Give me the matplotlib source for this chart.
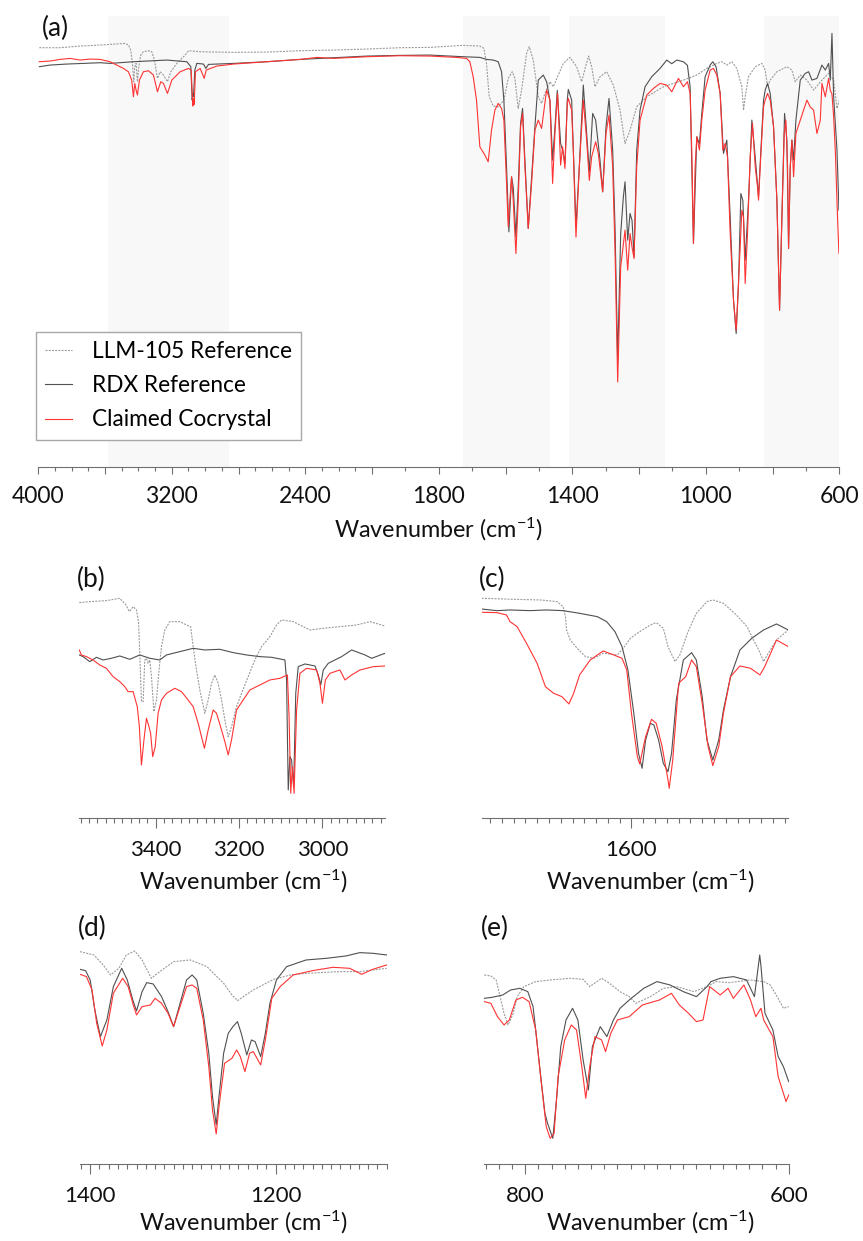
import numpy as np
import matplotlib
matplotlib.use('Agg')
import matplotlib.pyplot as plt
from matplotlib.ticker import FixedLocator, FixedFormatter, MultipleLocator, NullFormatter

plt.rcParams['font.family'] = ['Lato', 'DejaVu Sans']
plt.rcParams['mathtext.fontset'] = 'custom'
plt.rcParams['mathtext.rm'] = 'Lato'
plt.rcParams['mathtext.default'] = 'regular'

# ---- data: (wavenumber cm-1, transmittance arb. units) ----
# panel (a), full range 4000-600
a_llm = [(3994, 125.8), (3870, 125.8), (3750, 126.3), (3630, 126.6), (3480, 127.1), (3460, 126.6),
         (3446, 125.1), (3436, 121.1), (3428, 115.6), (3422, 120.1), (3414, 121.1), (3406, 115.6),
         (3398, 120.1), (3386, 123.6), (3370, 124.6), (3340, 124.9), (3320, 124.6), (3304, 122.1),
         (3286, 116.6), (3270, 118.6), (3250, 117.6), (3226, 115.6), (3206, 118.6), (3170, 121.1),
         (3120, 123.6), (3100, 124.9), (3030, 124.6), (2830, 124.4), (2630, 124.5), (2430, 124.9),
         (2230, 125.1), (2030, 125.4), (1917, 125.8), (1827, 125.9), (1727, 126.5), (1677, 126.3),
         (1665, 125.6), (1657, 121.1), (1649, 111.1), (1637, 108.3), (1622, 108.1), (1605, 110.1),
         (1592, 116.6), (1580, 118.6), (1572, 116.6), (1562, 107.6), (1552, 113.1), (1537, 124.1),
         (1529, 126.1), (1517, 122.1), (1502, 111.1), (1492, 109.1), (1482, 112.1), (1467, 115.6),
         (1457, 114.1), (1442, 117.6), (1427, 121.1), (1407, 122.9), (1387, 120.1), (1372, 115.6),
         (1359, 120.6), (1351, 123.3), (1342, 120.1), (1332, 114.1), (1317, 117.1), (1297, 118.6),
         (1277, 114.6), (1257, 107.1), (1242, 97.1), (1227, 101.1), (1207, 108.1), (1177, 111.1),
         (1127, 114.1), (1067, 116.1), (1027, 117.6), (997, 119.6), (967, 121.1), (952, 121.6),
         (937, 120.6), (922, 121.6), (907, 119.6), (892, 114.1), (887, 107.1), (882, 111.1),
         (872, 117.1), (852, 120.1), (832, 121.1), (822, 119.1), (815, 114.1), (807, 116.1),
         (787, 118.6), (757, 120.1), (742, 119.1), (732, 115.6), (717, 117.6), (697, 116.1),
         (677, 113.1), (652, 116.1), (632, 118.1), (617, 116.1), (607, 107.6), (600, 110.1)]
a_rdx = [(3994, 120.1), (3930, 120.6), (3830, 120.9), (3730, 121.1), (3630, 121.3), (3570, 121.1),
         (3430, 121.6), (3230, 122.1), (3110, 121.6), (3086, 120.1), (3078, 110.1), (3074, 112.0),
         (3070, 111.1), (3062, 119.1), (3050, 121.1), (3010, 120.9), (2996, 119.6), (2980, 120.8),
         (2830, 121.1), (2630, 121.6), (2430, 122.3), (2230, 122.8), (2030, 123.3), (1917, 123.5),
         (1827, 123.6), (1727, 123.1), (1677, 122.9), (1657, 122.3), (1637, 122.1), (1622, 121.6),
         (1612, 118.6), (1605, 110.1), (1597, 90.1), (1590, 70.6), (1582, 87.1), (1577, 84.0),
         (1569, 69.1), (1562, 84.1), (1555, 103.1), (1549, 107.6), (1542, 92.1), (1532, 71.6),
         (1522, 87.1), (1512, 102.1), (1502, 116.1), (1487, 117.6), (1477, 115.6), (1467, 110.0),
         (1459, 92.1), (1452, 102.0), (1445, 113.0), (1435, 97.1), (1429, 95.1), (1422, 91.1),
         (1415, 110.1), (1412, 113.3), (1402, 110.1), (1389, 72.1), (1379, 90.1), (1367, 114.6),
         (1357, 100.1), (1349, 88.6), (1339, 106.1), (1330, 104.1), (1317, 92.1), (1309, 82.6),
         (1299, 102.1), (1290, 110.6), (1279, 95.1), (1272, 72.1), (1264, 32.1), (1255, 70.1),
         (1247, 81.1), (1242, 85.6), (1234, 68.1), (1227, 76.1), (1221, 74.0), (1215, 63.1),
         (1207, 95.1), (1197, 107.1), (1182, 114.1), (1162, 117.1), (1137, 119.6), (1117, 122.1),
         (1102, 121.0), (1087, 122.1), (1067, 121.6), (1055, 120.5), (1047, 114.1), (1037, 67.1),
         (1027, 99.1), (1019, 97.0), (1012, 106.1), (1002, 117.1), (987, 120.6), (979, 121.6),
         (969, 120.0), (957, 112.1), (947, 94.1), (937, 98.1), (927, 75.1), (917, 50.1),
         (909, 40.1), (902, 55.0), (895, 82.1), (889, 80.0), (882, 62.1), (872, 80.1),
         (862, 104.1), (852, 93.1), (842, 81.1), (835, 95.0), (827, 110.1), (822, 113.1),
         (815, 115.1), (807, 112.1), (797, 102.1), (787, 80.1), (779, 47.1), (772, 75.1),
         (764, 106.1), (757, 98.0), (752, 65.6), (747, 90.0), (742, 98.1), (737, 92.1),
         (730, 104.1), (717, 116.1), (702, 118.1), (692, 118.6), (682, 116.1), (667, 116.6),
         (652, 120.6), (642, 119.1), (632, 121.1), (627, 116.1), (622, 130.1), (617, 111.1),
         (607, 95.1), (601, 77.1)]
a_cc = [(3994, 121.6), (3930, 121.8), (3870, 122.3), (3810, 122.6), (3750, 122.1), (3690, 122.4),
        (3630, 122.3), (3570, 121.6), (3530, 120.6), (3490, 119.6), (3460, 118.6), (3440, 116.1),
        (3430, 111.1), (3422, 115.1), (3414, 113.1), (3406, 111.6), (3394, 116.1), (3370, 118.6),
        (3340, 118.9), (3310, 117.6), (3286, 112.6), (3266, 115.6), (3250, 115.1), (3226, 112.1),
        (3200, 116.1), (3150, 118.6), (3100, 119.6), (3084, 119.1), (3074, 108.3), (3070, 110.5),
        (3066, 108.8), (3058, 118.6), (3030, 119.6), (3006, 116.6), (2994, 119.1), (2930, 120.3),
        (2830, 120.9), (2630, 121.6), (2430, 122.3), (2330, 122.9), (2230, 122.6), (2030, 123.1),
        (1917, 123.4), (1827, 123.3), (1747, 122.9), (1717, 122.6), (1707, 121.6), (1697, 117.1),
        (1687, 110.1), (1677, 96.1), (1662, 93.6), (1652, 91.6), (1642, 101.1), (1632, 107.1),
        (1622, 109.1), (1612, 107.6), (1605, 104.1), (1597, 85.1), (1592, 72.1), (1587, 80.1),
        (1582, 87.1), (1577, 80.1), (1569, 64.1), (1562, 80.1), (1555, 102.1), (1549, 106.1),
        (1542, 90.1), (1532, 71.6), (1522, 85.1), (1512, 101.1), (1502, 104.1), (1492, 101.6),
        (1482, 109.1), (1477, 113.1), (1467, 110.1), (1459, 85.1), (1452, 100.1), (1447, 108.1),
        (1444, 112.1), (1435, 90.6), (1429, 96.1), (1422, 89.6), (1415, 109.1), (1412, 110.6),
        (1402, 107.1), (1397, 95.1), (1389, 69.0), (1379, 90.1), (1367, 110.1), (1357, 98.1),
        (1349, 86.0), (1342, 93.1), (1330, 97.6), (1322, 94.1), (1309, 82.6), (1299, 100.1),
        (1290, 105.6), (1279, 90.1), (1272, 65.0), (1264, 25.6), (1255, 60.1), (1242, 71.1),
        (1234, 59.1), (1227, 70.1), (1221, 66.0), (1215, 62.6), (1207, 90.1), (1197, 104.1),
        (1177, 111.6), (1157, 113.6), (1137, 115.1), (1117, 114.6), (1102, 112.6), (1082, 116.6),
        (1067, 114.1), (1055, 115.6), (1047, 112.1), (1042, 95.1), (1037, 67.1), (1032, 90.1),
        (1027, 99.1), (1019, 95.1), (1012, 104.1), (1002, 113.1), (987, 119.1), (977, 119.6),
        (967, 117.6), (957, 112.1), (949, 95.1), (942, 97.1), (935, 93.1), (927, 70.1),
        (917, 50.1), (909, 41.1), (902, 55.1), (892, 77.1), (887, 75.0), (882, 55.1),
        (875, 70.1), (867, 93.1), (860, 103.1), (852, 90.1), (845, 84.1), (842, 80.1),
        (837, 90.0), (827, 108.1), (822, 110.1), (815, 112.1), (807, 110.1), (797, 102.1),
        (787, 80.1), (779, 47.1), (772, 75.1), (765, 100.1), (760, 104.1), (755, 90.1),
        (752, 65.6), (747, 90.1), (742, 98.1), (737, 87.1), (730, 100.1), (717, 104.1),
        (707, 107.1), (697, 110.1), (687, 108.0), (677, 107.1), (667, 100.1), (657, 104.0),
        (652, 115.1), (642, 111.1), (632, 116.6), (627, 113.0), (622, 112.0), (617, 105.1),
        (612, 95.1), (605, 74.1), (601, 64.1)]

# panel (b), 3583-2850
b_llm = [(3583, 64.7), (3558, 65.0), (3518, 65.3), (3486, 66.0), (3471, 64.0), (3463, 62.0),
         (3454, 63.5), (3446, 62.5), (3441, 59.0), (3438, 49.5), (3434, 35.0), (3430, 35.0),
         (3426, 47.5), (3422, 48.0), (3418, 46.5), (3414, 47.5), (3410, 42.5), (3404, 32.0),
         (3398, 35.5), (3391, 45.5), (3386, 51.5), (3378, 56.5), (3366, 59.0), (3342, 59.0),
         (3326, 58.0), (3316, 57.5), (3310, 51.5), (3302, 44.5), (3294, 38.5), (3282, 31.5),
         (3274, 35.5), (3266, 40.5), (3258, 43.0), (3250, 40.5), (3242, 35.5), (3234, 29.5),
         (3226, 24.5), (3218, 27.5), (3206, 33.5), (3194, 37.5), (3178, 42.5), (3162, 47.5),
         (3146, 51.5), (3126, 54.5), (3110, 58.0), (3098, 59.5), (3070, 59.0), (3046, 57.5),
         (3030, 56.5), (2998, 57.0), (2958, 57.5), (2918, 58.0), (2886, 59.0), (2850, 57.7)]
b_rdx = [(3583, 49.0), (3574, 48.5), (3558, 47.0), (3542, 48.3), (3526, 47.5), (3506, 48.0),
         (3486, 48.7), (3462, 47.7), (3438, 49.0), (3414, 48.0), (3390, 47.5), (3374, 49.0),
         (3342, 50.0), (3310, 51.0), (3282, 50.5), (3246, 50.7), (3214, 49.7), (3182, 49.0),
         (3150, 48.5), (3122, 48.3), (3090, 47.5), (3086, 41.5), (3082, 8.5), (3078, 18.5),
         (3074, 17.5), (3069, 9.5), (3064, 37.5), (3058, 45.5), (3042, 46.3), (3018, 45.7),
         (3010, 43.0), (3004, 40.0), (2998, 44.5), (2986, 46.5), (2954, 48.5), (2930, 50.5),
         (2898, 49.0), (2882, 48.0), (2850, 49.5)]
b_cc = [(3583, 50.5), (3578, 49.0), (3566, 48.5), (3550, 47.5), (3534, 46.0), (3518, 45.0),
        (3502, 42.5), (3486, 41.0), (3474, 39.5), (3466, 38.0), (3454, 38.0), (3444, 33.5),
        (3439, 27.5), (3434, 16.0), (3428, 23.5), (3422, 30.0), (3417, 28.0), (3412, 25.5),
        (3407, 18.5), (3401, 21.5), (3394, 31.5), (3386, 35.5), (3374, 37.5), (3354, 39.0),
        (3338, 38.0), (3322, 35.5), (3310, 33.5), (3298, 28.5), (3290, 24.5), (3283, 21.0),
        (3274, 26.5), (3262, 32.5), (3254, 31.5), (3242, 26.5), (3234, 23.0), (3226, 19.0),
        (3218, 23.5), (3206, 32.5), (3190, 35.5), (3174, 38.5), (3150, 40.0), (3126, 41.5),
        (3102, 42.0), (3084, 43.0), (3080, 30.5), (3076, 7.5), (3072, 15.5), (3068, 7.5),
        (3062, 32.5), (3054, 43.5), (3038, 45.0), (3014, 44.5), (3006, 40.5), (3000, 34.5),
        (2993, 41.5), (2982, 43.5), (2958, 44.5), (2946, 41.5), (2930, 43.0), (2910, 44.5),
        (2878, 45.5), (2850, 45.7)]

# panel (c), 1727-1467
c_llm = [(1727, 66.0), (1700, 65.7), (1677, 65.5), (1663, 65.0), (1658, 63.5), (1656, 60.5),
         (1655, 56.5), (1652, 53.5), (1646, 51.0), (1639, 48.5), (1632, 48.0), (1624, 49.5),
         (1612, 49.0), (1607, 51.0), (1601, 54.0), (1593, 56.0), (1584, 58.0), (1579, 58.7),
         (1573, 57.0), (1569, 51.5), (1563, 47.0), (1559, 49.0), (1552, 56.0), (1545, 61.5),
         (1536, 65.0), (1531, 65.5), (1522, 64.5), (1511, 61.0), (1502, 57.5), (1498, 54.5),
         (1492, 50.5), (1488, 47.0), (1484, 49.5), (1477, 53.5), (1467, 56.5)]
c_rdx = [(1727, 62.8), (1720, 62.5), (1714, 62.3), (1703, 62.5), (1686, 62.3), (1672, 62.5),
         (1658, 62.3), (1644, 61.5), (1629, 60.5), (1621, 59.0), (1614, 56.0), (1608, 51.5),
         (1603, 44.5), (1598, 31.5), (1594, 19.5), (1591, 15.0), (1588, 23.5), (1584, 28.5),
         (1581, 28.0), (1577, 23.5), (1573, 16.5), (1569, 14.0), (1566, 19.5), (1562, 35.5),
         (1556, 47.5), (1549, 49.7), (1545, 47.5), (1540, 36.5), (1536, 23.5), (1531, 17.5),
         (1526, 23.5), (1522, 32.5), (1516, 42.5), (1508, 50.5), (1498, 54.0), (1488, 56.5),
         (1477, 58.3), (1467, 56.5)]
c_cc = [(1727, 61.8), (1714, 61.7), (1706, 61.0), (1703, 59.0), (1697, 57.5), (1689, 52.5),
        (1680, 46.5), (1673, 39.5), (1666, 37.5), (1659, 36.5), (1653, 34.3), (1649, 37.5),
        (1644, 43.0), (1635, 47.5), (1624, 50.2), (1615, 49.0), (1608, 48.0), (1604, 44.5),
        (1600, 31.5), (1595, 18.5), (1593, 16.3), (1588, 24.5), (1583, 29.7), (1579, 28.5),
        (1574, 21.5), (1569, 11.5), (1568, 9.0), (1565, 17.5), (1560, 40.5), (1554, 42.5),
        (1549, 47.5), (1545, 45.5), (1540, 34.5), (1535, 21.5), (1531, 15.8), (1526, 21.5),
        (1522, 31.5), (1516, 42.5), (1508, 45.7), (1499, 45.0), (1491, 43.0), (1487, 45.5),
        (1477, 53.5), (1467, 51.5)]

# panel (d), 1411-1080
d_llm = [(1411, 63.8), (1396, 62.8), (1386, 59.8), (1378, 56.8), (1369, 58.8), (1361, 62.8),
         (1352, 64.0), (1344, 61.3), (1334, 55.8), (1325, 57.8), (1310, 60.8), (1292, 61.3),
         (1274, 59.3), (1256, 54.3), (1247, 50.8), (1241, 49.1), (1224, 52.3), (1202, 55.5),
         (1184, 56.8), (1167, 57.3), (1131, 57.8), (1109, 57.8), (1080, 58.8)]
d_rdx = [(1411, 58.5), (1405, 58.1), (1400, 55.3), (1395, 46.3), (1389, 38.3), (1382, 43.3),
         (1375, 53.3), (1366, 58.8), (1360, 55.3), (1354, 49.3), (1350, 46.0), (1344, 51.8),
         (1339, 54.5), (1332, 54.1), (1323, 50.3), (1316, 45.8), (1310, 41.3), (1303, 48.3),
         (1296, 55.3), (1290, 56.8), (1285, 55.3), (1278, 45.3), (1272, 33.3), (1268, 20.3),
         (1264, 11.8), (1261, 20.3), (1256, 33.3), (1251, 39.3), (1246, 41.3), (1241, 42.8),
         (1237, 39.3), (1231, 32.8), (1226, 37.3), (1222, 36.8), (1216, 32.3), (1211, 39.3),
         (1206, 48.3), (1199, 55.3), (1188, 59.3), (1167, 61.3), (1145, 61.8), (1124, 62.5),
         (1109, 63.5), (1095, 63.3), (1080, 62.8)]
d_cc = [(1411, 57.0), (1404, 56.3), (1398, 52.3), (1393, 42.3), (1387, 35.5), (1382, 40.3),
        (1375, 51.3), (1365, 55.8), (1359, 53.3), (1353, 47.3), (1350, 44.8), (1344, 47.3),
        (1335, 47.8), (1330, 49.8), (1323, 48.3), (1316, 45.3), (1310, 41.3), (1303, 47.3),
        (1296, 53.3), (1290, 53.8), (1285, 52.8), (1278, 43.3), (1272, 29.3), (1268, 16.3),
        (1264, 9.1), (1261, 17.3), (1255, 30.3), (1247, 31.8), (1242, 34.3), (1238, 32.3),
        (1233, 27.8), (1228, 33.3), (1224, 33.8), (1221, 32.3), (1216, 29.8), (1211, 37.3),
        (1204, 49.8), (1195, 53.3), (1181, 56.8), (1160, 58.1), (1138, 59.1), (1120, 58.8),
        (1107, 57.0), (1095, 58.5), (1080, 59.8)]

# panel (e), 831-600
e_llm = [(831, 56.8), (826, 56.5), (822, 55.3), (819, 50.3), (816, 45.3), (813, 41.8),
         (809, 45.3), (806, 50.3), (801, 53.3), (792, 54.8), (781, 55.3), (766, 55.8),
         (756, 55.5), (751, 53.3), (742, 55.8), (736, 54.3), (728, 51.8), (721, 50.3),
         (716, 48.3), (705, 50.3), (695, 52.8), (685, 53.3), (672, 51.8), (662, 53.3),
         (655, 54.8), (645, 54.5), (629, 55.3), (619, 54.8), (614, 53.8), (608, 49.8),
         (604, 46.8), (600, 47.3)]
e_rdx = [(831, 49.8), (825, 50.1), (817, 50.8), (811, 52.3), (804, 52.8), (798, 51.8),
         (794, 47.3), (792, 40.3), (789, 29.3), (785, 15.3), (783, 12.3), (779, 7.8),
         (776, 20.3), (773, 35.3), (769, 43.3), (764, 46.8), (760, 43.3), (756, 31.3),
         (752, 22.3), (749, 35.3), (743, 41.3), (738, 38.3), (733, 43.3), (728, 46.8),
         (721, 49.3), (710, 52.8), (700, 54.8), (690, 53.8), (680, 51.8), (670, 50.3),
         (662, 53.3), (659, 54.8), (652, 55.8), (642, 56.3), (632, 55.3), (626, 50.3),
         (622, 62.8), (621, 59.3), (618, 45.3), (612, 40.3), (608, 32.3), (604, 29.3),
         (600, 24.8)]
e_cc = [(831, 48.8), (826, 48.3), (821, 44.3), (816, 41.8), (812, 43.3), (807, 49.3),
        (802, 50.1), (797, 48.8), (792, 40.3), (788, 25.3), (784, 11.3), (781, 7.8),
        (778, 9.3), (775, 26.3), (770, 37.3), (765, 41.8), (761, 40.3), (757, 29.3),
        (754, 19.8), (751, 29.3), (747, 38.3), (742, 37.3), (739, 33.8), (735, 39.3),
        (730, 43.3), (721, 44.3), (711, 47.8), (698, 49.3), (689, 51.3), (683, 47.8),
        (676, 45.3), (670, 42.8), (665, 43.3), (660, 53.3), (652, 50.8), (646, 52.8),
        (642, 49.8), (634, 53.8), (629, 49.3), (625, 44.3), (621, 46.8), (619, 43.3),
        (612, 38.3), (608, 26.3), (604, 21.3), (602, 18.8), (600, 20.8)]

labels = ['LLM-105 Reference', 'RDX Reference', 'Claimed Cocrystal']
shaded = [(3580, 2856), (1727, 1467), (1410, 1122), (827, 600)]

# ---- styling ----
styles = [dict(color='#9a9a9a', lw=0.8, ls=(0, (1.8, 1.1))),
          dict(color='#505050', lw=0.8),
          dict(color='#ff3333', lw=0.8)]
W, H = 863, 1241
fig = plt.figure(figsize=(W / 100, H / 100), dpi=100)


def add_ax(x0, y0, x1, y1):
    # box in pixels, measured from the top-left corner
    return fig.add_axes([x0 / W, 1 - y1 / H, (x1 - x0) / W, (y1 - y0) / H])


def draw(ax, series, fs):
    lines = []
    for data, st in zip(series, styles):
        wn, t = np.array(data).T
        lines += ax.plot(wn, t, **st)
    for s in ('top', 'left', 'right'):
        ax.spines[s].set_visible(False)
    ax.spines['bottom'].set_color('#707070')
    ax.spines['bottom'].set_linewidth(0.8)
    ax.set_yticks([])
    ax.tick_params(axis='x', which='both', direction='out', color='#707070', width=0.8,
                   labelsize=fs, labelcolor='#111111')
    return lines


def fwd(w):
    w = np.asarray(w, dtype=float)
    return np.where(w > 2000, 2000 + (w - 2000) / 2, w)


def inv(u):
    u = np.asarray(u, dtype=float)
    return np.where(u > 2000, 2000 + (u - 2000) * 2, u)


# panel (a)
ax = add_ax(38.3, 15.7, 839.3, 467.3)
ax.set_xscale('function', functions=(fwd, inv))
for lo, hi in shaded:
    ax.axvspan(lo, hi, color='#f8f8f8', lw=0, zorder=0)
lines = draw(ax, [a_llm, a_rdx, a_cc], 16.5)
ax.set_xlim(4000, 600)
ax.set_ylim(0, 135.4)
major = [4000, 3600, 3200, 2800, 2400, 2000, 1800, 1600, 1400, 1200, 1000, 800, 600]
shown = {4000, 3200, 2400, 1800, 1400, 1000, 600}
ax.xaxis.set_major_locator(FixedLocator(major))
ax.xaxis.set_major_formatter(FixedFormatter([str(v) if v in shown else '' for v in major]))
ax.xaxis.set_minor_locator(FixedLocator([v for v in range(700, 4000, 100) if v not in major]))
ax.xaxis.set_minor_formatter(NullFormatter())
ax.tick_params(axis='x', which='major', length=5.3, pad=8.5)
ax.tick_params(axis='x', which='minor', length=3.2)
fig.legend(lines, labels, loc='upper left', bbox_to_anchor=(35.7 / W, 1 - 331.7 / H),
           bbox_transform=fig.transFigure, borderaxespad=0, fontsize=16.3, frameon=True,
           fancybox=False, edgecolor='#a8a8a8', framealpha=1, handlelength=1.2,
           handletextpad=0.85, labelspacing=0.58, borderpad=0.42)

# zoomed panels
panels = [((79.3, 590, 385, 818.3), (3583, 2850), [b_llm, b_rdx, b_cc], 20),
          ((481.7, 590, 788.3, 818.3), (1727, 1467), [c_llm, c_rdx, c_cc], 10),
          ((80, 940, 386.7, 1164.3), (1411, 1080), [d_llm, d_rdx, d_cc], 10),
          ((484.3, 940, 788.7, 1164.3), (831, 600), [e_llm, e_rdx, e_cc], 10)]
for box, xl, series, minor in panels:
    sub = add_ax(*box)
    draw(sub, series, 16)
    sub.set_xlim(*xl)
    sub.set_ylim(0, (box[3] - box[1]) * 0.3)
    sub.xaxis.set_major_locator(MultipleLocator(200))
    sub.xaxis.set_minor_locator(MultipleLocator(minor))
    sub.tick_params(axis='x', which='major', length=7, pad=8.5)
    sub.tick_params(axis='x', which='minor', length=3.3)

xlab = r'Wavenumber (cm$^{-1}$)'
for x, y in [(438.8, 529), (244, 881), (650.8, 881), (244, 1222), (651, 1222)]:
    fig.text(x / W, 1 - y / H, xlab, ha='center', va='center', fontsize=16.8, color='#111111')
for tag, x, y in [('(a)', 42, 28), ('(b)', 77, 579.5), ('(c)', 479, 579.5),
                  ('(d)', 78, 928), ('(e)', 481, 928)]:
    fig.text(x / W, 1 - y / H, tag, ha='left', va='center', fontsize=19, color='#111111')

fig.savefig('out.png', dpi=100, facecolor='white')
